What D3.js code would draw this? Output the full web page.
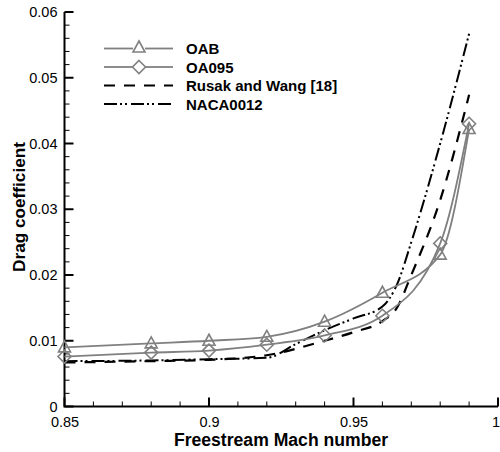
<!DOCTYPE html>
<html>
<head>
<meta charset="utf-8">
<script src="https://cdn.jsdelivr.net/npm/d3@7"></script>
<style>
  body { margin: 0; background: #fff; }
  svg text { font-family: "Liberation Sans", Arial, sans-serif; }
</style>
</head>
<body>
<svg id="chart" width="500" height="452"></svg>
<script>
// data
var machOAB = [0.85, 0.88, 0.90, 0.92, 0.94, 0.96, 0.98, 0.99];
var cdOAB   = [0.0090, 0.0096, 0.0100, 0.0106, 0.0129, 0.0173, 0.0231, 0.0422];

var machOA095 = [0.85, 0.88, 0.90, 0.92, 0.94, 0.96, 0.98, 0.99];
var cdOA095   = [0.0076, 0.0082, 0.0085, 0.0094, 0.0108, 0.0138, 0.0248, 0.0430];

var machRusak = [0.85, 0.88, 0.90, 0.92, 0.94, 0.95, 0.96, 0.965, 0.97, 0.98, 0.99];
var cdRusak   = [0.0067, 0.0069, 0.0071, 0.0078, 0.0100, 0.0113, 0.0130, 0.0150, 0.0200, 0.0314, 0.0474];

var machNACA = [0.85, 0.88, 0.90, 0.92, 0.93, 0.94, 0.95, 0.96, 0.965, 0.97, 0.98, 0.99];
var cdNACA   = [0.0069, 0.0070, 0.0072, 0.0074, 0.0095, 0.0116, 0.0134, 0.0152, 0.0185, 0.0250, 0.0400, 0.0567];

var xTicks = [0.85, 0.9, 0.95, 1];
var yTicks = [0, 0.01, 0.02, 0.03, 0.04, 0.05, 0.06];
var legendNames = ["OAB", "OA095", "Rusak and Wang [18]", "NACA0012"];

var svg = d3.select("#chart");
var gray = "#808080";

var x = d3.scaleLinear().domain([0.85, 1]).range([64.5, 498]);
var y = d3.scaleLinear().domain([0, 0.06]).range([406.5, 12]);

function zip(xs, ys){
    return xs.map(function(d, i){ return [d, ys[i]]; });
}

var line = d3.line()
    .x(function(d){ return x(d[0]); })
    .y(function(d){ return y(d[1]); })
    .curve(d3.curveMonotoneX);

var series = [
    {name: legendNames[0], pts: zip(machOAB, cdOAB), color: gray, width: 1.8, dash: null, sym: "tri"},
    {name: legendNames[1], pts: zip(machOA095, cdOA095), color: gray, width: 1.8, dash: null, sym: "dia"},
    {name: legendNames[2], pts: zip(machRusak, cdRusak), color: "#000", width: 2.2, dash: "11,9", sym: null},
    {name: legendNames[3], pts: zip(machNACA, cdNACA), color: "#000", width: 2, dash: "13,3,2,3,2,4", sym: null}
];

// axes (labels only, ticks drawn inward below)
var xAxis = d3.axisBottom(x).tickValues(xTicks).tickSize(0).tickPadding(10)
    .tickFormat(function(d){ return d === 1 ? "1" : d3.format("")(d); });
var yAxis = d3.axisLeft(y).tickValues(yTicks).tickSize(0).tickPadding(7)
    .tickFormat(function(d){ return d === 0 ? "0" : d3.format(".2f")(d); });

var gx = svg.append("g").attr("transform", "translate(0," + y(0) + ")").call(xAxis);
var gy = svg.append("g").attr("transform", "translate(" + x(0.85) + ",0)").call(yAxis);
[gx, gy].forEach(function(g){
    g.select(".domain").remove();
    g.selectAll("text").attr("font-size", 14.5).attr("fill", "#000");
});
// last x label sits at the page edge
gx.selectAll(".tick").filter(function(d){ return d === 1; }).select("text")
    .attr("text-anchor", "end").attr("x", 1.5);

var xMinor = d3.range(0.85, 1.0001, 0.01);
svg.append("g").selectAll("line").data(xMinor).enter().append("line")
    .attr("x1", function(d){ return x(d); }).attr("x2", function(d){ return x(d); })
    .attr("y1", y(0)).attr("y2", function(d, i){ return y(0) - (i % 5 === 0 ? 9 : 5); })
    .attr("stroke", "#000").attr("stroke-width", function(d, i){ return i % 5 === 0 ? 2 : 1; });
var yMinor = d3.range(0, 0.06001, 0.002);
svg.append("g").selectAll("line").data(yMinor).enter().append("line")
    .attr("y1", function(d){ return y(d); }).attr("y2", function(d){ return y(d); })
    .attr("x1", x(0.85)).attr("x2", function(d, i){ return x(0.85) + (i % 5 === 0 ? 9 : 5); })
    .attr("stroke", "#000").attr("stroke-width", function(d, i){ return i % 5 === 0 ? 2 : 1; });

svg.append("path")
    .attr("d", "M" + x(0.85) + "," + y(0.06) + "V" + y(0) + "H" + x(1))
    .attr("fill", "none").attr("stroke", "#000").attr("stroke-width", 2);

// titles
svg.append("text").attr("x", 281).attr("y", 445.5).attr("text-anchor", "middle")
    .attr("font-size", 17.6).attr("font-weight", "bold").text("Freestream Mach number");
svg.append("text").attr("transform", "translate(25," + 207 + ")rotate(-90)")
    .attr("text-anchor", "middle").attr("font-size", 17.2).attr("font-weight", "bold")
    .text("Drag coefficient");

function symbol(g, type, cx, cy, color){
    if (type === "tri"){
        g.append("path")
            .attr("d", "M" + cx + "," + (cy - 6.5) + "L" + (cx + 6) + "," + (cy + 4.5) + "L" + (cx - 6) + "," + (cy + 4.5) + "Z")
            .attr("fill", "none").attr("stroke", color).attr("stroke-width", 1.6);
    }
    else if (type === "dia"){
        g.append("path")
            .attr("d", "M" + cx + "," + (cy - 6.5) + "L" + (cx + 6.5) + "," + cy + "L" + cx + "," + (cy + 6.5) + "L" + (cx - 6.5) + "," + cy + "Z")
            .attr("fill", "none").attr("stroke", color).attr("stroke-width", 1.6);
    }
}

// curves
var plot = svg.append("g");
series.slice().reverse().forEach(function(s){
    plot.append("path").attr("d", line(s.pts))
        .attr("fill", "none").attr("stroke", s.color).attr("stroke-width", s.width)
        .attr("stroke-dasharray", s.dash);
    if (s.sym){
        s.pts.forEach(function(p){ symbol(plot, s.sym, x(p[0]), y(p[1]), s.color); });
    }
});

// legend
var legend = svg.append("g");
series.forEach(function(s, i){
    var ly = 48.5 + i * 18.5;
    if (s.sym){
        legend.append("line").attr("x1", 104).attr("x2", 133).attr("y1", ly).attr("y2", ly)
            .attr("stroke", s.color).attr("stroke-width", s.width);
        legend.append("line").attr("x1", 145).attr("x2", 173).attr("y1", ly).attr("y2", ly)
            .attr("stroke", s.color).attr("stroke-width", s.width);
        symbol(legend, s.sym, 139, s.sym === "tri" ? ly - 1 : ly, s.color);
    }
    else {
        legend.append("line").attr("x1", 104).attr("x2", 173).attr("y1", ly).attr("y2", ly)
            .attr("stroke", s.color).attr("stroke-width", s.width)
            .attr("stroke-dasharray", s.dash);
    }
    legend.append("text").attr("x", 186).attr("y", ly + 5.5).attr("font-size", 15)
        .attr("font-weight", "bold").text(s.name);
});
</script>
</body>
</html>
